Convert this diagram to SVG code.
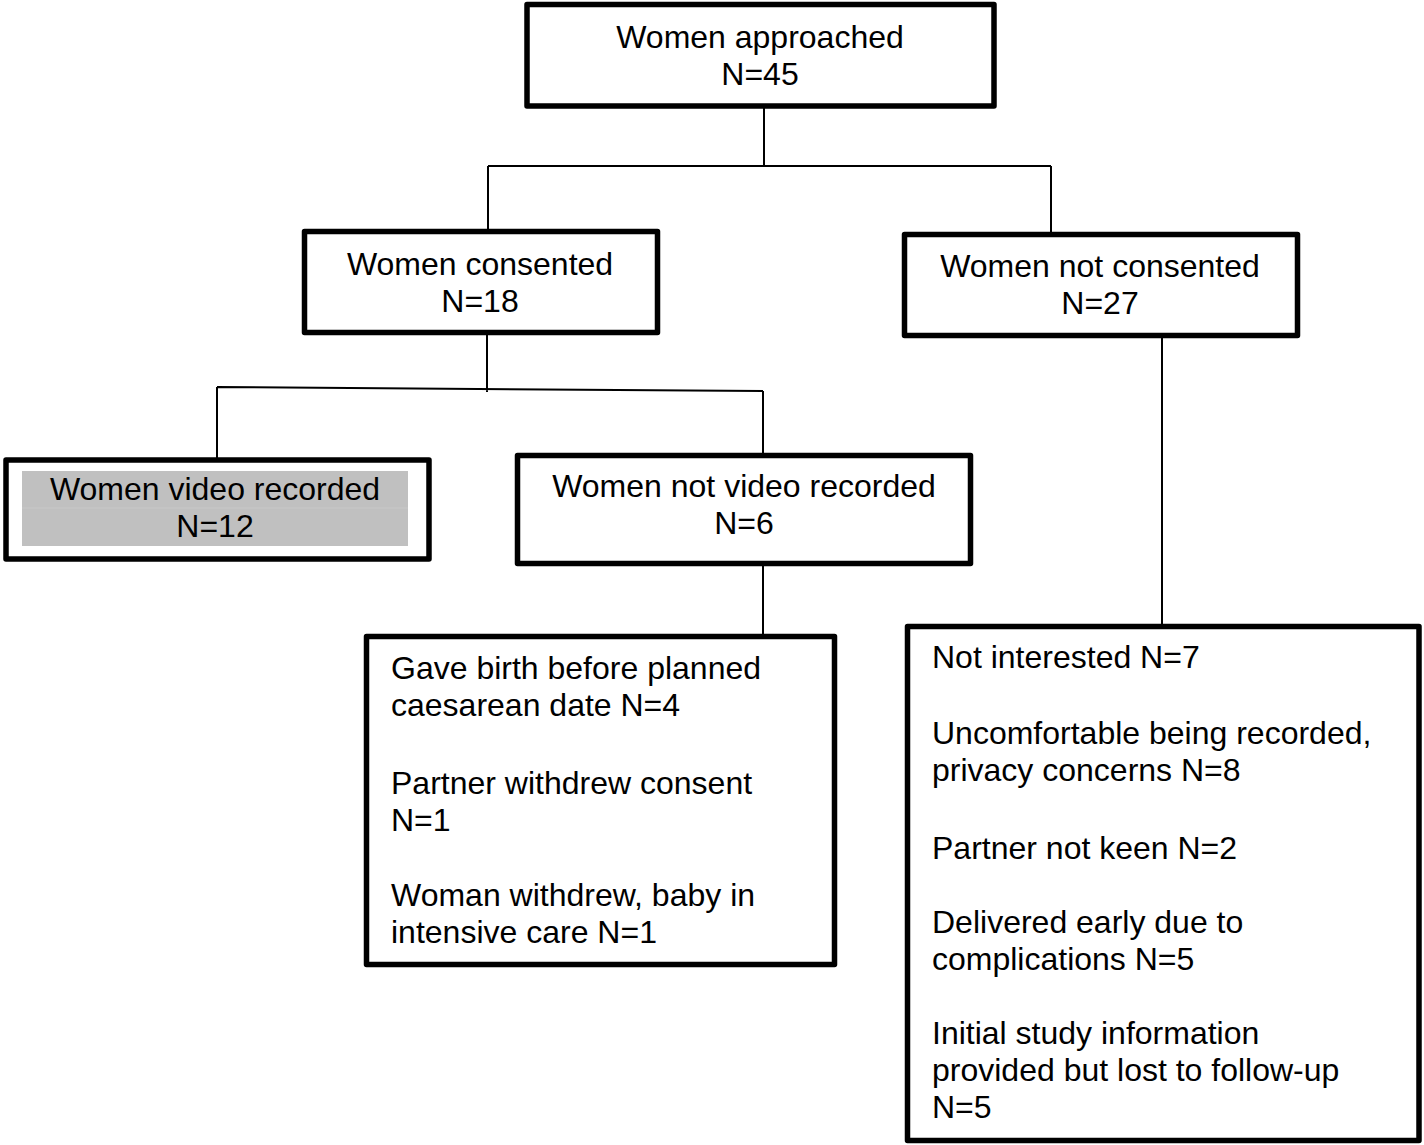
<svg xmlns="http://www.w3.org/2000/svg" width="1424" height="1145" viewBox="0 0 1424 1145">
<style>
.box{fill:#fff;stroke:#000;stroke-width:5.5;stroke-linejoin:round}
.t{font-family:"Liberation Sans",Arial,sans-serif;font-size:32px;fill:#000}
.c{text-anchor:middle}
.ln{fill:none;stroke:#000;stroke-width:2}
</style>
<rect width="1424" height="1145" fill="#fff"/>
<g id="connectors">
<path class="ln" d="M764,106 V166 M488,166 H1051 M488,166 V231 M1051,166 V234"/>
<path class="ln" d="M487,332 V392 M217,387 L763,391 M217,387 V460 M763,391 V455"/>
<path class="ln" d="M1162,335 V626"/>
<path class="ln" d="M763,563 V636"/>
</g>
<g id="approached">
<rect class="box" x="527" y="4.5" width="467" height="101.5"/>
<text class="t c" x="760" y="48">Women approached</text>
<text class="t c" x="760" y="85">N=45</text>
</g>
<g id="consented">
<rect class="box" x="304.5" y="231.5" width="353" height="101"/>
<text class="t c" x="480" y="275">Women consented</text>
<text class="t c" x="480" y="312">N=18</text>
</g>
<g id="not-consented">
<rect class="box" x="904.5" y="234.5" width="393" height="101"/>
<text class="t c" x="1100" y="277">Women not consented</text>
<text class="t c" x="1100" y="314">N=27</text>
</g>
<g id="video-recorded">
<rect class="box" x="6" y="460" width="423" height="99"/>
<rect x="22" y="471" width="386" height="75" fill="#c0c0c0"/>
<line x1="22" y1="508" x2="408" y2="508" stroke="#c8c8c8" stroke-width="1"/>
<text class="t c" x="215" y="500">Women video recorded</text>
<text class="t c" x="215" y="537">N=12</text>
</g>
<g id="not-video-recorded">
<rect class="box" x="517.5" y="455.5" width="453" height="108"/>
<text class="t c" x="744" y="497">Women not video recorded</text>
<text class="t c" x="744" y="534">N=6</text>
</g>
<g id="reasons-not-recorded">
<rect class="box" x="366.5" y="636.5" width="468" height="328"/>
<text class="t" x="391" y="679">Gave birth before planned</text>
<text class="t" x="391" y="716">caesarean date N=4</text>
<text class="t" x="391" y="794">Partner withdrew consent</text>
<text class="t" x="391" y="831">N=1</text>
<text class="t" x="391" y="906">Woman withdrew, baby in</text>
<text class="t" x="391" y="943">intensive care N=1</text>
</g>
<g id="reasons-not-consented">
<rect class="box" x="907.5" y="626.5" width="511.5" height="514"/>
<text class="t" x="932" y="668">Not interested N=7</text>
<text class="t" x="932" y="744">Uncomfortable being recorded,</text>
<text class="t" x="932" y="781">privacy concerns N=8</text>
<text class="t" x="932" y="859">Partner not keen N=2</text>
<text class="t" x="932" y="933">Delivered early due to</text>
<text class="t" x="932" y="970">complications N=5</text>
<text class="t" x="932" y="1044">Initial study information</text>
<text class="t" x="932" y="1081">provided but lost to follow-up</text>
<text class="t" x="932" y="1118">N=5</text>
</g>
</svg>
